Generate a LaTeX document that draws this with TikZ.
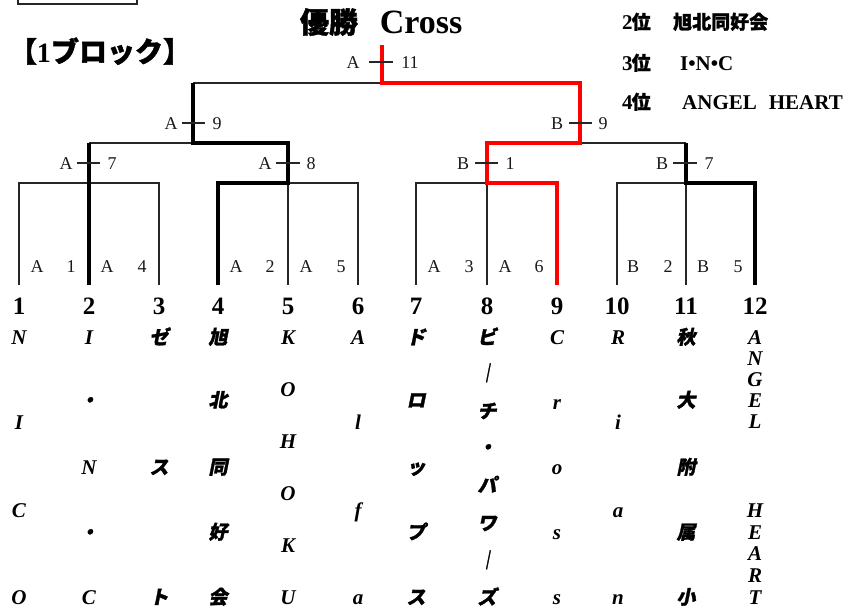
\documentclass[tikz,border=0pt]{standalone}
\usepackage{fontspec}
\newfontfamily\lib{Liberation Serif}
\newfontfamily\jp{Noto Sans CJK JP}[FakeBold=1.5]
\newfontfamily\jpi{Noto Sans CJK JP}[FakeSlant=0.2,FakeBold=1.5]
\tikzset{
 tline/.style={line width=1.1pt,draw=black!85},
 wline/.style={line width=4pt,draw=black,line join=miter},
 rline/.style={line width=4pt,draw=red,line join=miter},
 num/.style={font=\lib\bfseries\fontsize{25}{25}\selectfont,anchor=base,inner sep=0pt},
 nm/.style={font=\lib\bfseries\itshape\fontsize{21}{21}\selectfont,anchor=base,inner sep=0pt},
 jn/.style={font=\jpi\bfseries\fontsize{19}{19}\selectfont,anchor=base,inner sep=0pt},
 lab/.style={font=\lib\fontsize{18}{18}\selectfont,anchor=base,inner sep=0pt,text=black!90},
 ttl/.style={font=\lib\bfseries\fontsize{34}{34}\selectfont,anchor=base,inner sep=0pt},
 jttl/.style={font=\jp\bfseries\fontsize{29}{29}\selectfont,anchor=base,inner sep=0pt},
 rk/.style={font=\lib\bfseries\fontsize{21}{21}\selectfont,anchor=base west,inner sep=0pt},
 jrk/.style={font=\jp\bfseries\fontsize{19}{19}\selectfont,anchor=base west,inner sep=0pt},
}
\begin{document}
\begin{tikzpicture}[x=1pt,y=-1pt]
\useasboundingbox (0,0) rectangle (853,614);
% top-left partial box
\draw[tline] (18,0) -- (18,4) -- (137,4) -- (137,0);
% titles
\node[jttl] (yusho) at (329,33) {優勝};
\node[ttl] (cross) at (421,33) {Cross};
\node[font=\jp\bfseries\fontsize{28}{28}\selectfont,anchor=base,inner sep=0pt] (block) at (100,62) {【{\lib 1}ブロック】};
% rankings
\node[rk] (r2n) at (622,29) {2\kern-1pt{\jp\fontsize{19}{19}\selectfont 位}};
\node[jrk] (r2t) at (673,29) {旭北同好会};
\node[rk] (r3n) at (622,70) {3\kern-1pt{\jp\fontsize{19}{19}\selectfont 位}};
\node[rk] (r3t) at (680,70) {I•N•C};
\node[rk] (r4n) at (622,109) {4\kern-1pt{\jp\fontsize{19}{19}\selectfont 位}};
\node[rk] (r4t) at (682,109) {ANGEL\hspace{12pt}HEART};
% coordinates
\foreach \i/\x in {1/19,2/89,3/159,4/218,5/288,6/358,7/416,8/487,9/557,10/617,11/686,12/755}{
  \coordinate (b\i) at (\x,285);
  \coordinate (t\i) at (\x,183);
  \node[num] (n\i) at (\x,314) {\i};
}
\coordinate (jA) at (89,143);
\coordinate (jB) at (288,143);
\coordinate (jC) at (487,143);
\coordinate (jD) at (686,143);
\coordinate (kL) at (193,143);
\coordinate (kR) at (580,143);
\coordinate (fL) at (193,83);
\coordinate (fR) at (580,83);
\coordinate (fM) at (382,83);
\coordinate (win) at (382,45);
% thin bracket
\draw[tline] (b1)--(t1)--(t3)--(b3);
\draw[tline] (b4)--(t4)--(t6)--(b6);
\draw[tline] (t5)--(b5);
\draw[tline] (b7)--(t7)--(t9)--(b9);
\draw[tline] (t8)--(b8);
\draw[tline] (b10)--(t10)--(t12)--(b12);
\draw[tline] (t11)--(b11);
\draw[tline] (jA)--(jB);
\draw[tline] (jC)--(jD);
\draw[tline] (fL)--(fR);
% winners
\draw[wline] (b2)--(jA);
\draw[wline] (b4)--(t4)--(t5)--(jB)--(kL)--(fL);
\draw[wline] (jD)--(t11)--(t12)--(b12);
\draw[rline] (b9)--(t9)--(t8)--(jC)--(kR)--(fR)--(fM)--(win);
% leaf labels
\foreach \x/\c [count=\k] in {37/A,71/1,107/A,142/4,236/A,270/2,306/A,341/5,434/A,469/3,505/A,539/6,633/B,668/2,703/B,738/5}{
  \node[lab] (leaf\k) at (\x,272) {\c};
}
% match labels with ticks
\foreach \nm/\a/\xa/\xs/\xe/\n/\xn/\y in {m7/A/66/77/100/7/112/163, m8/A/265/276/300/8/311/163, m1/B/463/475/498/1/510/163, mb7/B/662/673/697/7/709/163, m9a/A/171/182/205/9/217/123, m9b/B/557/569/592/9/603/123, m11/A/353/369/393/11/410/62}{
  \node[lab] (\nm a) at (\xa,\y+6) {\a};
  \node[lab] (\nm n) at (\xn,\y+6) {\n};
  \coordinate (\nm s) at (\xs,\y);
  \coordinate (\nm e) at (\xe,\y);
  \draw[tline] (\nm s)--(\nm e);
}
% team names
\foreach \y/\c [count=\k] in {337/N,422/I,510/C,597/O}{\node[nm] (c1-\k) at (19,\y+7) {\c};}
\foreach \y/\c [count=\k] in {337/I,467/N,597/C}{\node[nm] (c2-\k) at (89,\y+7) {\c};}
\foreach \y [count=\k] in {400,532}{\node[jn] (c2d-\k) at (89,\y+7) {・};}
\foreach \y/\c [count=\k] in {337/ゼ,467/ス,597/ト}{\node[jn] (c3-\k) at (159,\y+7) {\c};}
\foreach \y/\c [count=\k] in {337/旭,400/北,467/同,532/好,597/会}{\node[jn] (c4-\k) at (218,\y+7) {\c};}
\foreach \y/\c [count=\k] in {337/K,389/O,441/H,493/O,545/K,597/U}{\node[nm] (c5-\k) at (288,\y+7) {\c};}
\foreach \y/\c [count=\k] in {337/A,422/l,510/f,597/a}{\node[nm] (c6-\k) at (358,\y+7) {\c};}
\foreach \y/\c [count=\k] in {337/ド,400/ロ,467/ッ,532/プ,597/ス}{\node[jn] (c7-\k) at (416,\y+7) {\c};}
\foreach \y/\c [count=\k] in {337/ビ,373/｜,411/チ,447/・,485/パ,523/ワ,560/｜,597/ズ}{\node[jn] (c8-\k) at (487,\y+7) {\c};}
\foreach \y/\c [count=\k] in {337/C,402/r,467/o,532/s,597/s}{\node[nm] (c9-\k) at (557,\y+7) {\c};}
\foreach \y/\c [count=\k] in {337/R,422/i,510/a,597/n}{\node[nm] (c10-\k) at (618,\y+7) {\c};}
\foreach \y/\c [count=\k] in {337/秋,400/大,467/附,532/属,597/小}{\node[jn] (c11-\k) at (686,\y+7) {\c};}
\foreach \y/\c [count=\k] in {337/A,358/N,379/G,400/E,421/L,510/H,532/E,553/A,575/R,597/T}{\node[nm] (c12-\k) at (755,\y+7) {\c};}
\end{tikzpicture}
\end{document}
